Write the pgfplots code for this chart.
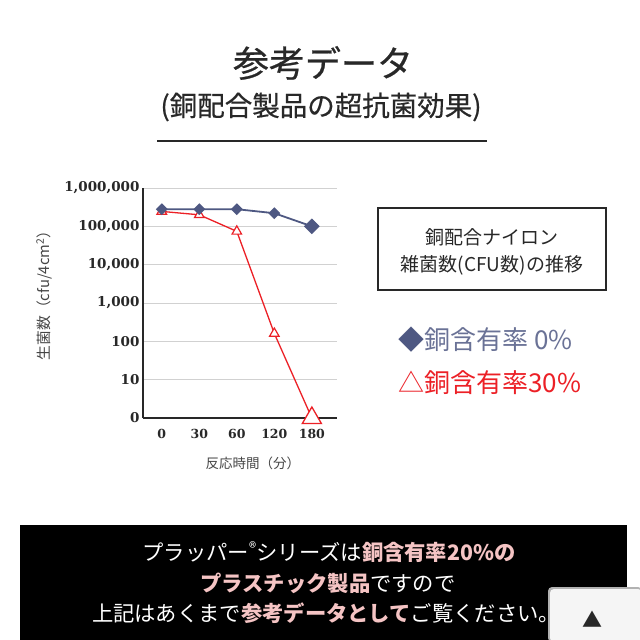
\documentclass[border=0pt]{standalone}
\usepackage{pgfplots}
\pgfplotsset{compat=1.18}
\usepackage{fontspec}
\setmainfont{Noto Sans CJK JP}
\newfontfamily\jpmed{Noto Sans CJK JP}[FakeBold=0.6]
\newfontfamily\numfont{DejaVu Serif}
\definecolor{slate}{RGB}{78,88,130}
\definecolor{slatetext}{RGB}{106,114,150}
\definecolor{redc}{RGB}{236,32,38}
\definecolor{pinkc}{RGB}{245,196,196}
\definecolor{dark}{RGB}{40,40,40}
\definecolor{midgray}{RGB}{70,70,70}
\begin{document}
\begin{tikzpicture}
\useasboundingbox (0,0) rectangle (640pt,-640pt);
\fill[white] (0,0) rectangle (640pt,-640pt);
\node[text=dark, font=\jpmed\fontsize{36}{40}\selectfont] at (323pt,-63pt) {参考データ};
\node[text=dark, font=\jpmed\fontsize{27.5}{32}\selectfont] at (321pt,-107pt) {(銅配合製品の超抗菌効果)};
\draw[dark, line width=1.8pt] (157pt,-141pt) -- (487pt,-141pt);

\begin{axis}[
  at={(143pt,-418pt)}, anchor=south west,
  width=194pt, height=230pt, scale only axis,
  ymode=log, log basis y=10, ymin=1, ymax=1000000,
  xmin=-0.5, xmax=4.67,
  axis x line=bottom, axis y line=left,
  axis line style={-, draw=dark, line width=1.5pt},
  ytick={1,10,100,1000,10000,100000,1000000},
  yticklabels={0,10,100,{1,000},{10,000},{100,000},{1,000,000}},
  xtick={0,1,2,3,4}, xticklabels={0,30,60,120,180},
  major tick length=0pt, minor tick length=0pt,
  yminorticks=false,
  ymajorgrids, grid style={draw=black!18, line width=1pt},
  yticklabel style={font=\numfont\bfseries\fontsize{13.5}{15}\selectfont, text=dark},
  xticklabel style={yshift=-8pt, font=\numfont\bfseries\fontsize{12.5}{14}\selectfont, text=dark},
  xlabel={反応時間（分）},
  ylabel={生菌数（cfu/4cm\textsuperscript{2}）},
  xlabel style={at={(axis description cs:0.567,-0.196)}, anchor=center, font=\fontsize{13.5}{15}\selectfont, text=midgray},
  ylabel style={at={(axis description cs:-0.51,0.548)}, anchor=center, font=\fontsize{14.8}{16}\selectfont, text=midgray},
  clip=false,
]
\addplot[redc, line width=1.3pt, mark=triangle*, mark size=5.5pt,
  mark options={fill=white, draw=redc, line width=1.2pt}, mark indices={1,2,3,4}]
  coordinates {(0,245000)(1,200000)(2,74000)(3,160)(4,1)};
\addplot[redc, only marks, mark=triangle*, mark size=11pt,
  mark options={fill=white, draw=redc, line width=1.3pt}]
  coordinates {(4,1)};
\addplot[slate, line width=1.8pt, mark=square*, mark size=3.3pt,
  mark options={rotate=45, fill=slate, draw=slate}, mark indices={1,2,3,4}]
  coordinates {(0,280000)(1,280000)(2,280000)(3,220000)(4,100000)};
\addplot[slate, only marks, mark=square*, mark size=5.3pt,
  mark options={rotate=45, fill=slate, draw=slate}]
  coordinates {(4,100000)};
\end{axis}

\draw[dark, line width=1.5pt] (378pt,-208pt) rectangle (606pt,-290pt);
\node[text=dark, font=\fontsize{19}{22}\selectfont] at (492pt,-237pt) {銅配合ナイロン};
\node[text=dark, font=\fontsize{19}{22}\selectfont] at (492pt,-265pt) {雑菌数(CFU数)の推移};
\node[anchor=west, inner sep=0pt, font=\fontsize{26}{28}\selectfont] at (398pt,-340pt) {\textcolor{slate}{◆}\textcolor{slatetext}{銅含有率 0\%}};
\node[anchor=west, inner sep=0pt, font=\fontsize{26}{28}\selectfont, text=redc] at (398pt,-383pt) {△銅含有率30\%};

\fill[black] (20pt,-525pt) rectangle (627pt,-640pt);
\node[text=white, font=\fontsize{21.3}{24}\selectfont] at (329pt,-552pt) {プラッパー\textsuperscript{®}シリーズは\textcolor{pinkc}{\bfseries 銅含有率20\%の}};
\node[text=white, font=\fontsize{21.3}{24}\selectfont] at (328pt,-583pt) {\textcolor{pinkc}{\bfseries プラスチック製品}ですので};
\node[text=white, font=\fontsize{21.3}{24}\selectfont] at (326pt,-613pt) {上記はあくまで\textcolor{pinkc}{\bfseries 参考データとして}ご覧ください。};
\fill[black!30, rounded corners=4pt] (548pt,-587pt) rectangle (642pt,-642pt);
\fill[white!96!black, rounded corners=4pt] (550pt,-589pt) rectangle (642pt,-642pt);
\node[text=dark, font=\fontsize{20}{22}\selectfont] at (592pt,-619pt) {▲};
\end{tikzpicture}
\end{document}
